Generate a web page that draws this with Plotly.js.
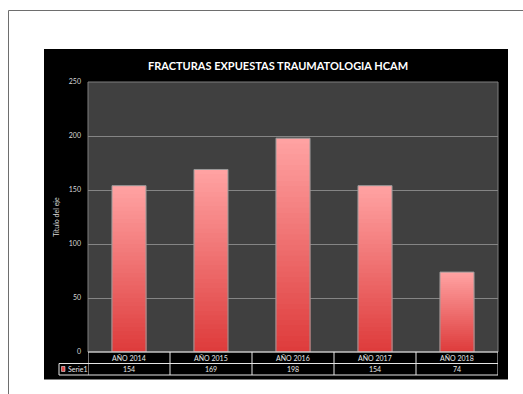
<!DOCTYPE html>
<html>
<head>
<meta charset="utf-8">
<script src="https://cdn.plot.ly/plotly-3.0.1.min.js"></script>
<style>
  html, body { margin: 0; padding: 0; background: #ffffff; }
  #chart { width: 523px; height: 394px; }
</style>
</head>
<body>
<div id="chart"></div>
<script>
// ---- data ----
const categories = ["AÑO 2014", "AÑO 2015", "AÑO 2016", "AÑO 2017", "AÑO 2018"];
const values = [154, 169, 198, 154, 74];
const seriesName = "Serie1";
const chartTitle = "FRACTURAS EXPUESTAS TRAUMATOLOGIA HCAM";
const yAxisTitle = "Título del eje";
const yTicks = [0, 50, 100, 150, 200, 250];

// ---- styling helpers ----
const FONT = "Lato, 'Open Sans', sans-serif";
const topColor = [255, 162, 162];
const bottomColor = [222, 60, 60];
const N = 40;

function mix(t) {
  const c = topColor.map((a, i) => Math.round(a + (bottomColor[i] - a) * t));
  return `rgb(${c[0]},${c[1]},${c[2]})`;
}

const traces = [];
// gradient: overlaid bars, each shorter one drawn on top with a redder colour
for (let k = 0; k < N; k++) {
  const frac = (N - k) / N;
  traces.push({
    type: "bar",
    x: categories,
    y: values.map(v => v * frac),
    marker: { color: mix(k / (N - 1)), line: { width: 0 } },
    width: 0.415,
    hoverinfo: "skip",
    showlegend: false
  });
}
// outline
traces.push({
  type: "bar",
  x: categories,
  y: values,
  name: seriesName,
  marker: { color: "rgba(0,0,0,0)", line: { color: "#9a9a9a", width: 1 } },
  width: 0.415,
  showlegend: false
});

// ---- pixel -> paper helpers (plot area 88..498 x, 82..352 y) ----
const PL = 88, PR = 498, PT = 82, PB = 352;
const px = x => (x - PL) / (PR - PL);
const py = y => (PB - y) / (PB - PT);

const shapes = [
  // outer frame
  { type: "path", xref: "paper", yref: "paper", layer: "below",
    path: `M ${px(8.5)} ${py(394)} L ${px(8.5)} ${py(10.5)} L ${px(523)} ${py(10.5)}`,
    line: { color: "#6e6e6e", width: 1 } },
  // black chart area
  { type: "rect", xref: "paper", yref: "paper", layer: "below",
    x0: px(44), x1: px(508), y0: py(379.5), y1: py(49),
    fillcolor: "#000000", line: { width: 0 } },
  // plot area
  { type: "rect", xref: "paper", yref: "paper", layer: "below",
    x0: 0, x1: 1, y0: 0, y1: 1,
    fillcolor: "#404040", line: { color: "#7f7f7f", width: 1 } }
];

// data table lines
const tableLine = { color: "#e6e6e6", width: 1 };
const rowMid = py(363.5), rowBot = py(375);
shapes.push({ type: "line", xref: "paper", yref: "paper", x0: 0, x1: 1, y0: 0, y1: 0, line: tableLine });
shapes.push({ type: "line", xref: "paper", yref: "paper", x0: px(59), x1: 1, y0: rowMid, y1: rowMid, line: tableLine });
shapes.push({ type: "line", xref: "paper", yref: "paper", x0: px(59), x1: 1, y0: rowBot, y1: rowBot, line: tableLine });
shapes.push({ type: "line", xref: "paper", yref: "paper", x0: px(59), x1: px(59), y0: rowMid, y1: rowBot, line: tableLine });
for (let i = 0; i <= categories.length; i++) {
  shapes.push({ type: "line", xref: "x", yref: "paper", x0: i - 0.5, x1: i - 0.5, y0: 0, y1: rowBot, line: tableLine });
}
// legend key square
shapes.push({ type: "rect", xref: "paper", yref: "paper",
  x0: px(61.5), x1: px(65), y0: py(371.5), y1: py(366.5),
  fillcolor: "#e04848", line: { color: "#ffffff", width: 0.5 } });

const cellFont = { family: FONT, size: 7, color: "#e8e8e8" };
const annotations = [
  { text: chartTitle, xref: "paper", yref: "paper", x: px(278), y: py(65.5),
    showarrow: false, xanchor: "center", yanchor: "middle",
    font: { family: FONT, size: 11, color: "#ffffff", weight: "bold" } },
  { text: seriesName, xref: "paper", yref: "paper", x: px(66), y: (rowMid + rowBot) / 2,
    showarrow: false, xanchor: "left", yanchor: "middle", font: cellFont }
];
categories.forEach((c, i) => {
  annotations.push({ text: c, xref: "x", yref: "paper", x: i, y: rowMid / 2,
    showarrow: false, xanchor: "center", yanchor: "middle", font: cellFont });
  annotations.push({ text: String(values[i]), xref: "x", yref: "paper", x: i, y: (rowMid + rowBot) / 2,
    showarrow: false, xanchor: "center", yanchor: "middle", font: cellFont });
});

const layout = {
  width: 523, height: 394,
  margin: { l: PL, r: 523 - PR, t: PT, b: 394 - PB, pad: 0 },
  paper_bgcolor: "#ffffff",
  plot_bgcolor: "rgba(0,0,0,0)",
  barmode: "overlay",
  showlegend: false,
  font: { family: FONT, color: "#d9d9d9" },
  xaxis: {
    type: "category", range: [-0.5, categories.length - 0.5],
    showticklabels: false, showgrid: false, zeroline: false, ticks: "",
    fixedrange: true
  },
  yaxis: {
    range: [0, 250], tickvals: yTicks, ticktext: yTicks.map(String),
    showgrid: true, gridcolor: "#858585", gridwidth: 1, zeroline: false,
    tickfont: { family: FONT, size: 7, color: "#d9d9d9" },
    ticks: "", ticklabelstandoff: 6,
    title: { text: yAxisTitle, font: { family: FONT, size: 7, color: "#d9d9d9" }, standoff: 8 },
    fixedrange: true
  },
  shapes: shapes,
  annotations: annotations
};

Plotly.newPlot("chart", traces, layout, { displayModeBar: false, staticPlot: true });
</script>
</body>
</html>
